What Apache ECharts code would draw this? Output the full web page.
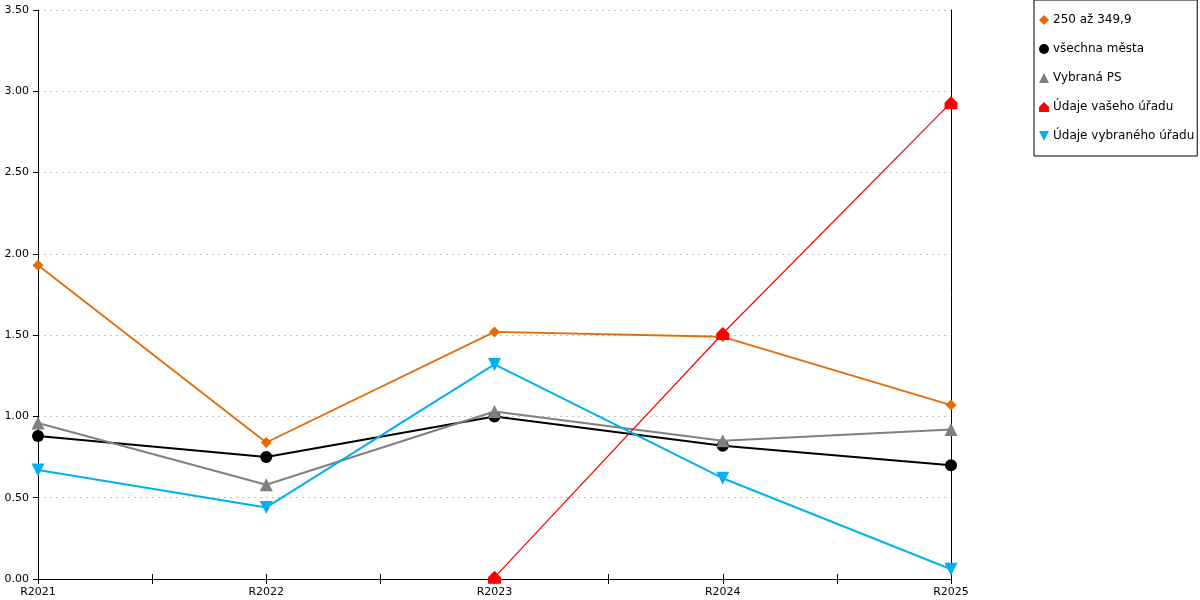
<!DOCTYPE html>
<html lang="cs">

<head>
    <meta charset="UTF-8">
    <title>Graf</title>
    <style>
        * {
            margin: 0;
            padding: 0;
        }
        body {
            background: #fff;
        }
    </style>
    <script src="https://cdn.jsdelivr.net/npm/echarts@6/dist/echarts.min.js"></script>
</head>

<body>
    <div id="echart" style="width: 1200px;height: 600px;"></div>
    <script>
        // data
        var categories = ['R2021', 'R2022', 'R2023', 'R2024', 'R2025']
        var seriesNames = ['250 až 349,9', 'všechna města', 'Vybraná PS', 'Údaje vašeho úřadu', 'Údaje vybraného úřadu']
        var orangeVals = [1.93, 0.84, 1.52, 1.49, 1.07]
        var blackVals = [0.88, 0.75, 1.00, 0.82, 0.70]
        var grayVals = [0.96, 0.58, 1.03, 0.85, 0.92]
        var redVals = [null, null, 0.01, 1.51, 2.93]
        var blueVals = [0.67, 0.44, 1.32, 0.62, 0.06]

        var colors = ['#E36C0A', '#000000', '#808080', '#FF0000', '#00B0F0']
        var symbols = ['diamond', 'circle', 'triangle',
            'path://M0,5 L5,0 L10,5 L10,10 L0,10 Z',
            'path://M0,0 L10,0 L5,10 Z'
        ]
        var symbolSizes = [11, 12, 13, 13, 13]
        var widths = [1.8, 2, 2, 1.2, 2]
        var allVals = [orangeVals, blackVals, grayVals, redVals, blueVals]

        var font = 'DejaVu Sans'

        var series = allVals.map((vals, i) => ({
            name: seriesNames[i],
            type: 'line',
            xAxisIndex: 0,
            yAxisIndex: 0,
            data: vals.map((v, j) => [j, v]),
            symbol: symbols[i],
            symbolSize: symbolSizes[i],
            showAllSymbol: true,
            connectNulls: false,
            lineStyle: { color: colors[i], width: widths[i] },
            itemStyle: { color: colors[i] },
            emphasis: { disabled: true },
            z: 2 + i
        }))

        var tickStyle = { color: '#000', width: 1 }

        var echart = echarts.init(document.getElementById('echart'));
        var option = {
            animation: false,
            textStyle: { fontFamily: font },
            grid: { left: 38, top: 10, right: 249, bottom: 21, containLabel: false },
            legend: {
                orient: 'vertical',
                left: 1034,
                top: 0,
                padding: [14, 3, 14, 5],
                itemGap: 17,
                itemWidth: 10,
                itemHeight: 10,
                borderColor: '#000',
                borderWidth: 1,
                textStyle: { fontFamily: font, fontSize: 12, color: '#000', padding: [0, 0, 0, -1] },
                data: seriesNames.map((n, i) => ({ name: n, icon: symbols[i] }))
            },
            xAxis: [{
                type: 'value',
                min: 0,
                max: categories.length - 1,
                interval: 0.5,
                axisLine: { show: true, onZero: false, lineStyle: { color: '#000', width: 1 } },
                axisTick: { show: true, length: 5, lineStyle: tickStyle },
                axisLabel: {
                    color: '#000',
                    fontSize: 11,
                    margin: 8,
                    showMinLabel: true,
                    showMaxLabel: true,
                    formatter: (v) => Number.isInteger(v) ? categories[v] : ''
                },
                splitLine: { show: false }
            }, {
                type: 'value',
                min: 0,
                max: categories.length - 1,
                interval: 0.5,
                position: 'bottom',
                axisLine: { show: false, onZero: false },
                axisTick: { show: true, inside: true, length: 5, lineStyle: tickStyle },
                axisLabel: { show: false },
                splitLine: { show: false }
            }],
            yAxis: [{
                type: 'value',
                min: 0,
                max: 3.5,
                interval: 0.5,
                axisLine: { show: true, onZero: false, lineStyle: { color: '#000', width: 1 } },
                axisTick: { show: true, length: 5, lineStyle: tickStyle },
                axisLabel: {
                    color: '#000',
                    fontSize: 11,
                    margin: 9,
                    formatter: (v) => v.toFixed(2)
                },
                splitLine: {
                    show: true,
                    lineStyle: { color: '#c4c4c4', type: [2, 4], width: 1 }
                }
            }, {
                type: 'value',
                min: 0,
                max: 3.5,
                position: 'right',
                axisLine: { show: true, onZero: false, lineStyle: { color: '#000', width: 1 } },
                axisTick: { show: false },
                axisLabel: { show: false },
                splitLine: { show: false }
            }],
            series: series
        };
        echart.setOption(option);
    </script>
</body>

</html>
